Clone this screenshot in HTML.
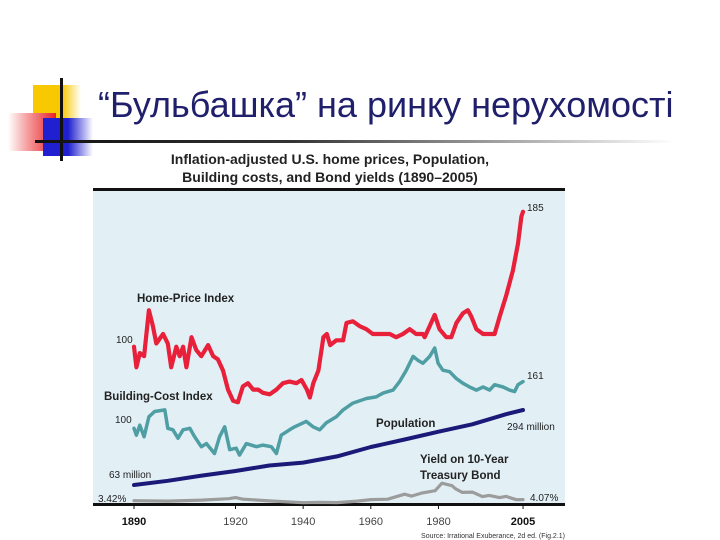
<!DOCTYPE html>
<html><head><meta charset="utf-8"><style>
body{margin:0;width:720px;height:540px;background:#fff;position:relative;overflow:hidden;font-family:"Liberation Sans",sans-serif}
.a{position:absolute}
</style></head><body>
<div class="a" style="left:33px;top:85px;width:48px;height:36px;background:linear-gradient(90deg,#f8c800 60%,#fff)"></div>
<div class="a" style="left:8px;top:113px;width:48px;height:38px;background:linear-gradient(90deg,#fff,#f5a0a0 40%,#e8202a)"></div>
<div class="a" style="left:43px;top:118px;width:50px;height:38px;background:linear-gradient(90deg,#2020d0 50%,#fff)"></div>
<div class="a" style="left:60px;top:78px;width:3px;height:83px;background:#111"></div>
<div class="a" style="left:35px;top:140px;width:640px;height:3px;background:linear-gradient(90deg,#111,#333 40%,#ccc 85%,#fff)"></div>
<div class="a" style="left:98px;top:84px;font-size:36px;color:#1f1f6b;font-family:'Liberation Sans','Noto Sans CJK SC',sans-serif;white-space:nowrap">“Бульбашка” на ринку нерухомості</div>
<div class="a" style="left:130px;top:150px;width:400px;text-align:center;font-weight:bold;font-size:14px;line-height:18px;color:#222">Inflation-adjusted U.S. home prices, Population,<br>Building costs, and Bond yields (1890–2005)</div>
<svg class="a" style="left:0;top:0" width="720" height="540">
<rect x="93" y="190" width="472" height="315" fill="#e2f0f6"/>
<rect x="93" y="188" width="472" height="3" fill="#111"/>
<rect x="93" y="503" width="472" height="3" fill="#111"/>
<g id="series"></g>
<g id="labels" font-family="Liberation Sans, sans-serif"></g>
</svg>
<script>
const homeYears=[1890,1890.7,1891.7,1893,1894.4,1895.6,1896.6,1898.6,1900,1901,1902.5,1903.5,1904.5,1905.5,1907,1908.4,1909.9,1911.9,1913.4,1914.8,1916.3,1917.8,1919.3,1920.7,1922.2,1923.7,1925.2,1926.7,1928.1,1930.1,1932.1,1934,1936,1938,1939.5,1941.1,1942,1943,1944.5,1946,1947,1948,1949.8,1951.8,1952.8,1954.7,1956.7,1958.7,1960.6,1963.6,1965.6,1967.5,1969.5,1971.5,1973.4,1975.4,1975.9,1977.4,1978.9,1980.3,1982.3,1983.8,1985.3,1987.2,1988.7,1989.7,1991.2,1993.2,1995.1,1996.6,1998.1,2000,2002,2003.5,2004.5,2005];
const homeValues=[100,87,96,94,123,113,102,108,102,87,100,94,100,87,106,98,94,101,94,92,85,73,66,65,75,77,73,73,71,70,73,77,78,77,79,73,68,77,85,106,108,101,104,104,115,116,113,111,108,108,108,106,108,111,108,108,106,113,120,111,106,106,115,121,123,119,111,108,108,108,119,132,148,165,182,185];
const bcYears=[1890,1890.7,1891.7,1893,1894.4,1896.1,1899.1,1900,1901.5,1903,1904.5,1906.5,1907.9,1909.9,1911.4,1913.8,1915.3,1916.8,1918.3,1920.2,1921.2,1923.2,1926.2,1928.1,1930.6,1932.1,1933.5,1936,1937.5,1940.9,1942.9,1944.9,1946.8,1949.8,1951.8,1954.7,1958.7,1961.6,1963.6,1966.6,1968.5,1970.5,1972.5,1973.9,1975.4,1977.4,1978.9,1979.9,1981.3,1983.3,1985.3,1987.2,1989.2,1991.2,1993.2,1995.1,1996.6,1999.1,2001,2002.5,2003.5,2005];
const bcValues=[100,91,104,89,115,122,124,100,98,87,98,100,89,76,80,67,89,102,72,74,65,80,76,78,76,67,91,98,102,109,102,98,107,115,124,133,139,141,146,150,161,176,194,189,185,194,205,185,176,174,165,159,154,150,154,150,157,154,150,148,157,161];
const popYears=[1890,1900,1910,1920,1930,1940,1950,1960,1970,1980,1990,2000,2005];
const popValues=[63,76,92,106,123,132,151,180,203,227,250,281,294];
const bondYears=[1890,1900,1910,1918,1920,1922,1930,1940,1945,1950,1956,1960,1965,1970,1972,1975,1979,1981,1984,1985,1987,1990,1993,1995,1998,2000,2003,2005];
const bondValues=[3.4,3.2,3.8,4.6,5.3,4.4,3.3,2.2,2.4,2.3,3.2,4.1,4.3,7.3,6.2,8.0,9.4,13.9,12.4,10.6,8.4,8.6,5.9,6.6,5.3,6.0,4.0,4.07];
const tickYears=[1890,1920,1940,1960,1980,2005];

const X=y=>134+(y-1890)*3.383;
const Yhome=v=>346.7-(v-100)*1.588;
const Ybc=v=>428.3-(v-100)*0.765;
const Ypop=p=>485-(p-63)*0.3247;
const Ybond=r=>500.7-(r-3.42)*1.667;
const NS="http://www.w3.org/2000/svg";
const g=document.getElementById('series');
function line(xs,vs,yf,color,w,name){
  const p=document.createElementNS(NS,'polyline');
  p.setAttribute('points',xs.map((x,i)=>X(x).toFixed(1)+','+yf(vs[i]).toFixed(1)).join(' '));
  p.setAttribute('fill','none');p.setAttribute('stroke',color);p.setAttribute('stroke-width',w);
  p.setAttribute('stroke-linejoin','round');p.setAttribute('stroke-linecap','round');
  
  
  g.appendChild(p);
}
line(bondYears,bondValues,Ybond,'#9c9c9c',3.2,'bond-yield-line');
line(popYears,popValues,Ypop,'#1c1a78',4,'population-line');
line(bcYears,bcValues,Ybc,'#4e9ea3',3.5,'building-cost-line');
line(homeYears,homeValues,Yhome,'#e8203a',4.2,'home-price-line');

const L=document.getElementById('labels');
function txt(x,y,s,size,bold,name,anchor,color){
  const t=document.createElementNS(NS,'text');
  t.setAttribute('x',x);t.setAttribute('y',y);t.setAttribute('font-size',size);
  if(bold)t.setAttribute('font-weight','bold');
  if(anchor)t.setAttribute('text-anchor',anchor);
  t.setAttribute('fill',color||'#222');
  t.textContent=s;
  
  
  L.appendChild(t);
}
txt(527,211,'185',10,false,'home-end-value');
txt(116,343,'100',10,false,'home-start-value');
txt(137,302,'Home-Price Index',11.5,true,'home-price-label');
txt(104,400,'Building-Cost Index',11.5,true,'building-cost-label');
txt(115,423,'100',10,false,'building-start-value');
txt(527,379,'161',10,false,'building-end-value');
txt(376,427,'Population',11.5,true,'population-label');
txt(507,430,'294 million',10,false,'population-end-value');
txt(109,478,'63 million',10,false,'population-start-value');
txt(420,463,'Yield on 10-Year',11.5,true,'yield-label-1');
txt(420,479,'Treasury Bond',11.5,true,'yield-label-2');
txt(98,502,'3.42%',10,false,'yield-start-value');
txt(530,501,'4.07%',10,false,'yield-end-value');
tickYears.forEach((yr,i)=>{
  const b=(i==0||i==tickYears.length-1);
  const tk=document.createElementNS(NS,'line');
  tk.setAttribute('x1',X(yr));tk.setAttribute('x2',X(yr));tk.setAttribute('y1',505);tk.setAttribute('y2',509);
  tk.setAttribute('stroke','#111');
  
  
  L.appendChild(tk);
  txt(X(yr),525,String(yr),11,b,'x-tick-label','middle',b?'#111':'#444');
});
txt(565,538,'Source: Irrational Exuberance, 2d ed. (Fig.2.1)',7,false,'source-note','end','#333');
</script>
</body></html>
